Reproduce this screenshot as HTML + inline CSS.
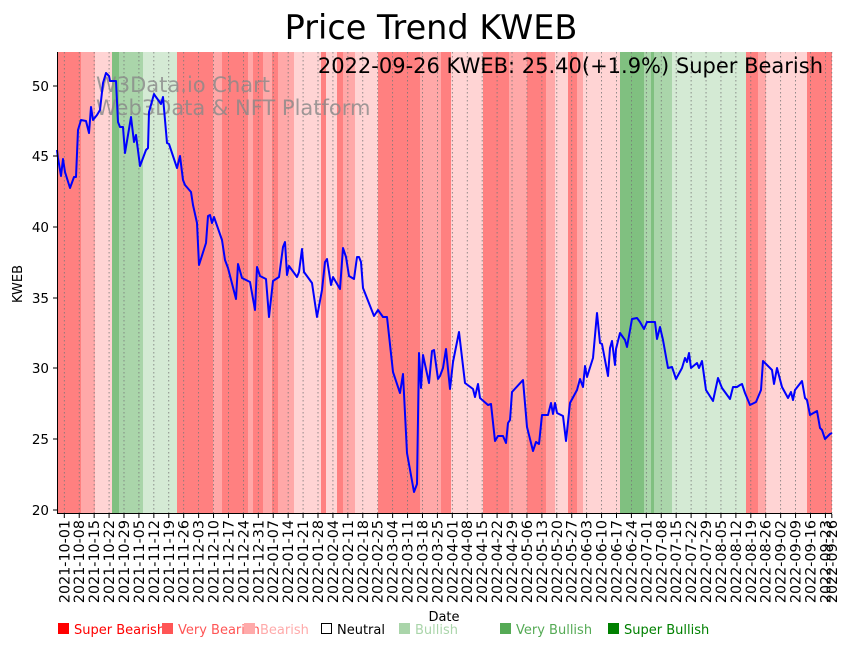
<!DOCTYPE html>
<html><head><meta charset="utf-8"><style>
html,body{margin:0;padding:0;background:#fff;}
svg{display:block;font-family:"DejaVu Sans","Liberation Sans",sans-serif;}
</style></head><body>
<svg width="851" height="646" viewBox="0 0 851 646" xmlns="http://www.w3.org/2000/svg">
<g>
<rect x="57" y="52" width="24" height="462" fill="#ff8080"/>
<rect x="81" y="52" width="14" height="462" fill="#ffa8a8"/>
<rect x="95" y="52" width="17" height="462" fill="#ffd4d4"/>
<rect x="112" y="52" width="7" height="462" fill="#80c080"/>
<rect x="119" y="52" width="24" height="462" fill="#aad5aa"/>
<rect x="143" y="52" width="34" height="462" fill="#d4ead4"/>
<rect x="177" y="52" width="36" height="462" fill="#ff8080"/>
<rect x="213" y="52" width="9" height="462" fill="#ffa8a8"/>
<rect x="222" y="52" width="26" height="462" fill="#ff8080"/>
<rect x="248" y="52" width="5" height="462" fill="#ffa8a8"/>
<rect x="253" y="52" width="10" height="462" fill="#ff8080"/>
<rect x="263" y="52" width="9" height="462" fill="#ffa8a8"/>
<rect x="272" y="52" width="6" height="462" fill="#ff8080"/>
<rect x="278" y="52" width="16" height="462" fill="#ffa8a8"/>
<rect x="294" y="52" width="27" height="462" fill="#ffd4d4"/>
<rect x="321" y="52" width="5" height="462" fill="#ff8080"/>
<rect x="326" y="52" width="11" height="462" fill="#ffd4d4"/>
<rect x="337" y="52" width="6" height="462" fill="#ff8080"/>
<rect x="343" y="52" width="12" height="462" fill="#ffa8a8"/>
<rect x="355" y="52" width="23" height="462" fill="#ffd4d4"/>
<rect x="378" y="52" width="42" height="462" fill="#ff8080"/>
<rect x="420" y="52" width="21" height="462" fill="#ffa8a8"/>
<rect x="441" y="52" width="10" height="462" fill="#ff8080"/>
<rect x="451" y="52" width="32" height="462" fill="#ffd4d4"/>
<rect x="483" y="52" width="26" height="462" fill="#ff8080"/>
<rect x="509" y="52" width="18" height="462" fill="#ffa8a8"/>
<rect x="527" y="52" width="19" height="462" fill="#ff8080"/>
<rect x="546" y="52" width="9" height="462" fill="#ffa8a8"/>
<rect x="555" y="52" width="13" height="462" fill="#ffd4d4"/>
<rect x="568" y="52" width="9" height="462" fill="#ff8080"/>
<rect x="577" y="52" width="6" height="462" fill="#ffa8a8"/>
<rect x="583" y="52" width="37" height="462" fill="#ffd4d4"/>
<rect x="620" y="52" width="24" height="462" fill="#80c080"/>
<rect x="644" y="52" width="7" height="462" fill="#aad5aa"/>
<rect x="651" y="52" width="3" height="462" fill="#80c080"/>
<rect x="654" y="52" width="18" height="462" fill="#aad5aa"/>
<rect x="672" y="52" width="74" height="462" fill="#d4ead4"/>
<rect x="746" y="52" width="12" height="462" fill="#ff8080"/>
<rect x="758" y="52" width="8" height="462" fill="#ffa8a8"/>
<rect x="766" y="52" width="41" height="462" fill="#ffd4d4"/>
<rect x="807" y="52" width="25" height="462" fill="#ff8080"/>
</g>
<g id="grid" stroke="#777" stroke-width="0.8" stroke-dasharray="1.5,2.5"></g>
<text x="96" y="92" font-size="21" fill="#888" fill-opacity="0.8">W3Data.io Chart</text>
<text x="96" y="115" font-size="21" fill="#888" fill-opacity="0.8">Web3Data &amp; NFT Platform</text>
<text x="823" y="73" font-size="21" text-anchor="end" fill="#000">2022-09-26 KWEB: 25.40(+1.9%) Super Bearish</text>
<polyline fill="none" stroke="#0000ff" stroke-width="2" stroke-linejoin="round" points="
57,150 58,158 61,176 63,159 65,172 70,188 74,177 76,177 78,130 81,120 86,121 89,133 91,107 93,120 97,115 100,110 103,83 106,73 109,76 110,81 116,81 118,122 120,127 123,127 125,153 131,117 134,142 136,135 140,166 146,150 148,148 149,112 154,94 156,97 161,104 163,97 167,143 169,144 177,168 180,156 183,180 185,185 191,192 193,205 197,223 199,265 206,243 208,216 210,215 212,223 214,217 222,240 225,260 228,268 236,299 238,264 242,278 250,282 255,310 257,267 260,276 266,279 269,317 273,281 279,277 283,247 285,242 287,275 289,266 297,277 299,272 302,249 304,272 312,283 317,317 322,290 325,262 327,259 331,285 333,277 340,289 343,248 346,257 349,276 354,279 357,257 359,257 361,262 363,288 374,316 378,310 383,317 387,317 393,372 400,393 403,374 407,453 414,492 417,484 419,353 421,388 423,355 429,383 432,351 434,350 438,379 440,376 443,368 446,349 450,389 453,362 459,332 465,383 473,389 475,397 478,384 480,398 488,405 491,404 495,441 498,436 503,436 506,443 508,423 510,420 512,392 523,380 527,427 533,451 536,442 539,444 542,415 548,415 551,403 553,414 555,403 557,413 563,416 566,441 570,403 577,390 580,379 583,387 585,366 587,377 593,358 597,313 600,343 602,344 608,376 610,348 612,341 615,365 616,349 620,333 625,340 627,347 632,319 637,318 640,322 644,329 647,322 655,322 657,339 660,327 663,340 668,368 672,367 676,379 682,368 685,358 687,362 689,353 691,368 697,363 699,368 702,361 706,390 713,401 718,378 722,388 730,399 733,387 737,387 740,385 742,384 745,393 750,405 756,402 761,390 763,361 772,370 774,384 777,368 782,387 788,398 791,392 793,400 795,390 802,381 805,398 807,400 810,415 817,411 820,428 822,430 825,439 830,434 832,433"/>
<g stroke="#000" stroke-width="1" fill="none">
<line x1="57.5" y1="52" x2="57.5" y2="514"/>
<line x1="57" y1="513.5" x2="832" y2="513.5"/>
</g>
<g font-size="13.5" text-anchor="end" fill="#000">
<line x1="53" y1="510" x2="57" y2="510" stroke="#000"/><text x="49" y="515">20</text>
<line x1="53" y1="439" x2="57" y2="439" stroke="#000"/><text x="49" y="444">25</text>
<line x1="53" y1="368" x2="57" y2="368" stroke="#000"/><text x="49" y="373">30</text>
<line x1="53" y1="298" x2="57" y2="298" stroke="#000"/><text x="49" y="303">35</text>
<line x1="53" y1="227" x2="57" y2="227" stroke="#000"/><text x="49" y="232">40</text>
<line x1="53" y1="156" x2="57" y2="156" stroke="#000"/><text x="49" y="161">45</text>
<line x1="53" y1="86" x2="57" y2="86" stroke="#000"/><text x="49" y="91">50</text>
</g>
<g id="xt" font-size="14.3" fill="#000"></g>
<text x="22" y="284" font-size="13" text-anchor="middle" transform="rotate(-90 22 284)">KWEB</text>
<text x="444" y="621" font-size="13" text-anchor="middle">Date</text>
<text x="431" y="39" font-size="33.5" text-anchor="middle">Price Trend KWEB</text>
<g font-size="13">
<rect x="58" y="623" width="11" height="11" fill="#ff0000"/><text x="74" y="634" fill="#ff0000">Super Bearish</text>
<rect x="162" y="623" width="11" height="11" fill="#ff5555"/><text x="178" y="634" fill="#ff5555">Very Bearish</text>
<rect x="244" y="623" width="11" height="11" fill="#ffaaaa"/><text x="260" y="634" fill="#ffaaaa">Bearish</text>
<rect x="321.5" y="623.5" width="10" height="10" fill="none" stroke="#000"/><text x="337" y="634" fill="#000">Neutral</text>
<rect x="399" y="623" width="11" height="11" fill="#aad5aa"/><text x="415" y="634" fill="#aad5aa">Bullish</text>
<rect x="500" y="623" width="11" height="11" fill="#55aa55"/><text x="516" y="634" fill="#55aa55">Very Bullish</text>
<rect x="608" y="623" width="11" height="11" fill="#008000"/><text x="624" y="634" fill="#008000">Super Bullish</text>
</g>
</svg>
<script>
(function(){
var ns="http://www.w3.org/2000/svg";
var g=document.getElementById("grid"),xt=document.getElementById("xt");
var start=Date.UTC(2021,9,1);
function add(d){
  var x=64.3+2.132*d;
  var dt=new Date(start+d*86400000);
  var s=dt.getUTCFullYear()+"-"+("0"+(dt.getUTCMonth()+1)).slice(-2)+"-"+("0"+dt.getUTCDate()).slice(-2);
  var l=document.createElementNS(ns,"line");
  l.setAttribute("x1",x);l.setAttribute("x2",x);l.setAttribute("y1",52);l.setAttribute("y2",513);
  g.appendChild(l);
  var t=document.createElementNS(ns,"line");
  t.setAttribute("x1",x);t.setAttribute("x2",x);t.setAttribute("y1",514);t.setAttribute("y2",518);t.setAttribute("stroke","#000");
  xt.appendChild(t);
  var tx=document.createElementNS(ns,"text");
  tx.setAttribute("x",x+5);tx.setAttribute("y",520);tx.setAttribute("text-anchor","end");
  tx.setAttribute("transform","rotate(-90 "+(x+5)+" 520)");
  tx.textContent=s;xt.appendChild(tx);
}
for(var i=0;i<52;i++)add(i*7);
add(360);
})();
</script>
</body></html>
